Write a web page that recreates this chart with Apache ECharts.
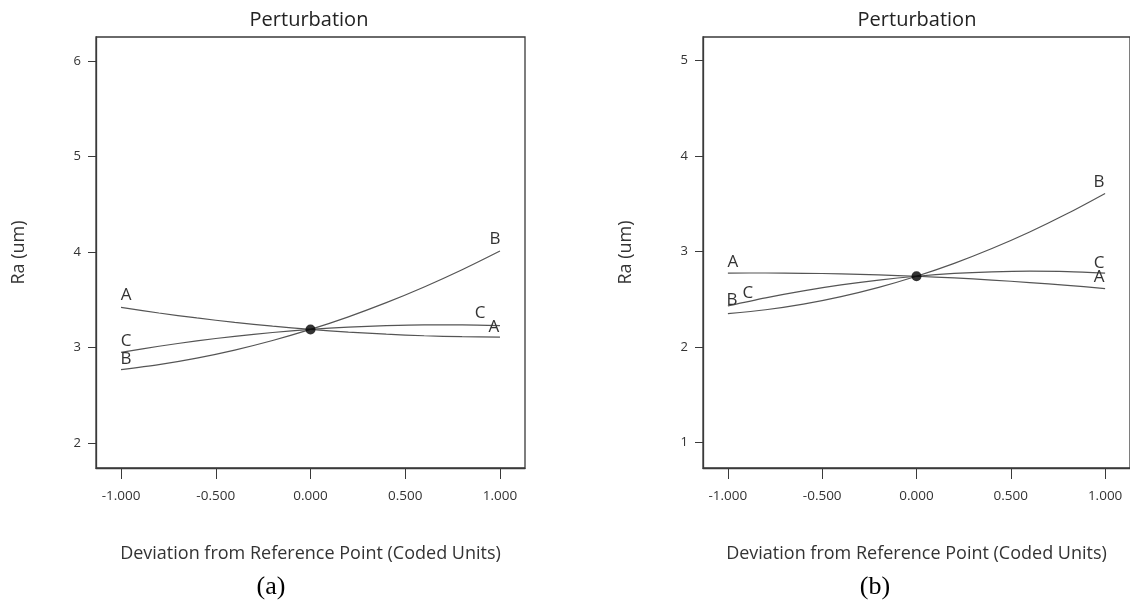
<!DOCTYPE html>
<html>
<head>
<meta charset="utf-8">
<script src="https://cdn.jsdelivr.net/npm/echarts@6/dist/echarts.min.js"></script>
<style>
html,body{margin:0;padding:0;background:#fff;}
#chart{width:1130px;height:602px;}
</style>
</head>
<body>
<div id="chart"></div>
<script>
// ---- data ----
const xValues = [-1, -0.8, -0.6, -0.4, -0.2, 0, 0.2, 0.4, 0.6, 0.8, 1];
const factorNames = ['A', 'B', 'C'];
// panel (a)
const aA = [3.42, 3.362, 3.310, 3.264, 3.224, 3.19, 3.162, 3.140, 3.124, 3.114, 3.11];
const aB = [2.77, 2.822, 2.890, 2.974, 3.074, 3.19, 3.322, 3.470, 3.634, 3.814, 4.01];
const aC = [2.95, 3.014, 3.070, 3.118, 3.158, 3.19, 3.214, 3.230, 3.238, 3.238, 3.23];
// panel (b)
const bA = [2.775, 2.776, 2.773, 2.767, 2.756, 2.742, 2.724, 2.702, 2.676, 2.647, 2.613];
const bB = [2.351, 2.391, 2.450, 2.529, 2.626, 2.742, 2.877, 3.032, 3.205, 3.398, 3.609];
const bC = [2.432, 2.516, 2.589, 2.651, 2.702, 2.742, 2.771, 2.788, 2.795, 2.791, 2.775];
const refA = [0, 3.19];
const refB = [0, 2.742];
const xTicks = [-1, -0.5, 0, 0.5, 1];
const yTicksA = [2, 3, 4, 5, 6];
const yTicksB = [1, 2, 3, 4, 5];
const panelTitle = 'Perturbation';
const xName = 'Deviation from Reference Point (Coded Units)';
const yName = 'Ra (um)';
const panelTags = ['(a)', '(b)'];

// ---- styling ----
const FONT = '"Open Sans", "Noto Sans", sans-serif';
const lineColor = '#555';
const axisColor = '#3a3a3a';

// label offsets [start, end] in px for each factor, per panel
const labelOffsets = [
  { A: [[5, -12], [-6, -10]], B: [[5, -10], [-5, -12]], C: [[5, -11], [-20, -12]] },
  { A: [[5, -11], [-6, -11]], B: [[4, -13], [-6, -11]], C: [[20, -13], [-6, -10]] }
];

function buildData(ys, name, offs) {
  return xValues.map((x, i) => {
    const item = { value: [x, ys[i]] };
    const last = xValues.length - 1;
    if (i === 0 || i === last) {
      item.label = {
        show: true,
        formatter: name,
        position: 'inside',
        offset: i === 0 ? offs[0] : offs[1],
        color: '#333',
        fontSize: 17,
        fontFamily: FONT
      };
    }
    return item;
  });
}

function lineSeries(ys, name, gi) {
  return {
    type: 'line',
    xAxisIndex: gi,
    yAxisIndex: gi,
    data: buildData(ys, name, labelOffsets[gi][name]),
    smooth: 0.3,
    symbol: 'circle',
    symbolSize: 0,
    showSymbol: true,
    lineStyle: { color: lineColor, width: 1.2 },
    itemStyle: { color: lineColor },
    silent: true,
    z: 2
  };
}

function xAxisDef(gi) {
  return {
    type: 'value',
    gridIndex: gi,
    min: -1.132,
    max: 1.132,
    name: xName,
    nameLocation: 'middle',
    nameGap: 77,
    nameTextStyle: { color: '#333', fontSize: 18, fontFamily: FONT },
    axisLine: { show: true, onZero: false, lineStyle: { color: axisColor, width: 1.3 } },
    axisTick: { show: true, length: 11, customValues: xTicks, lineStyle: { color: axisColor, width: 1 } },
    axisLabel: { customValues: xTicks, margin: 21, color: '#333', fontSize: 13.5, fontFamily: FONT,
      formatter: v => v.toFixed(3) },
    splitLine: { show: false }
  };
}

function yAxisDef(gi, ticks, min, max) {
  return {
    type: 'value',
    gridIndex: gi,
    min: min,
    max: max,
    name: yName,
    nameLocation: 'middle',
    nameGap: 68,
    nameTextStyle: { color: '#333', fontSize: 18, fontFamily: FONT },
    axisLine: { show: true, onZero: false, lineStyle: { color: axisColor, width: 1.3 } },
    axisTick: { show: true, length: 8, customValues: ticks, lineStyle: { color: axisColor, width: 1 } },
    axisLabel: { customValues: ticks, margin: 15, color: '#333', fontSize: 13, fontFamily: FONT },
    splitLine: { show: false }
  };
}

const chart = echarts.init(document.getElementById('chart'), null, { renderer: 'canvas' });
const option = {
  backgroundColor: '#fff',
  animation: false,
  title: [
    { text: panelTitle, left: 304, top: 5, textAlign: 'center',
      textStyle: { fontSize: 20, fontWeight: 'normal', color: '#222', fontFamily: FONT } },
    { text: panelTitle, left: 912, top: 5, textAlign: 'center',
      textStyle: { fontSize: 20, fontWeight: 'normal', color: '#222', fontFamily: FONT } }
  ],
  grid: [
    { left: 96, right: 605, top: 37, bottom: 134, show: true, borderColor: axisColor, borderWidth: 1.3, backgroundColor: 'transparent' },
    { left: 703, right: -3, top: 37, bottom: 134, show: true, borderColor: axisColor, borderWidth: 1.3, backgroundColor: 'transparent' }
  ],
  xAxis: [xAxisDef(0), xAxisDef(1)],
  yAxis: [yAxisDef(0, yTicksA, 1.74, 6.25), yAxisDef(1, yTicksB, 0.735, 5.246)],
  series: [
    lineSeries(aA, 'A', 0),
    lineSeries(aB, 'B', 0),
    lineSeries(aC, 'C', 0),
    lineSeries(bA, 'A', 1),
    lineSeries(bB, 'B', 1),
    lineSeries(bC, 'C', 1),
    { type: 'scatter', xAxisIndex: 0, yAxisIndex: 0, data: [refA], symbolSize: 10,
      itemStyle: { color: '#000' }, z: 5, silent: true },
    { type: 'scatter', xAxisIndex: 1, yAxisIndex: 1, data: [refB], symbolSize: 10,
      itemStyle: { color: '#000' }, z: 5, silent: true }
  ],
  graphic: [
    { type: 'text', x: 271, y: 587, style: { text: panelTags[0], textAlign: 'center', textVerticalAlign: 'middle',
      font: '26px "Liberation Serif", "Times New Roman", serif', fill: '#000' } },
    { type: 'text', x: 875, y: 587, style: { text: panelTags[1], textAlign: 'center', textVerticalAlign: 'middle',
      font: '26px "Liberation Serif", "Times New Roman", serif', fill: '#000' } }
  ]
};
chart.setOption(option);
</script>
</body>
</html>
